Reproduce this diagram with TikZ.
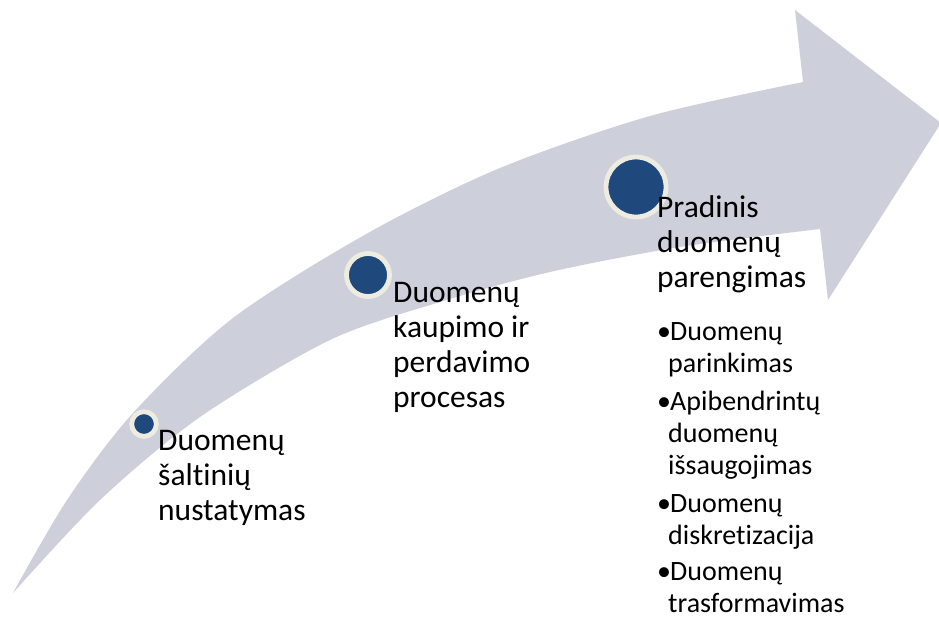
\documentclass[tikz,border=0pt]{standalone}
\usepackage{fontspec}
\setmainfont{Carlito}[Ligatures=NoCommon]

\definecolor{arrowgray}{RGB}{205,208,219}
\definecolor{dotblue}{RGB}{31,73,125}
\definecolor{dotrim}{RGB}{238,236,225}

\newcommand{\subbullet}{\makebox[13pt][l]{•}}
\newcommand{\subindent}{\hspace*{11pt}}

\tikzset{
    dot/.style={circle,fill=dotblue,draw=dotrim,line width=4.8pt,inner sep=0pt},
    % texts are placed by the baseline of their last line
    steptext/.style={anchor=base west,align=left,inner sep=0pt,
        font=\fontsize{31.5}{35}\selectfont},
    itemtext/.style={anchor=base west,align=left,inner sep=0pt,
        font=\fontsize{28}{32}\selectfont}
}

\begin{document}
\begin{tikzpicture}[x=1pt,y=-1pt]
    \useasboundingbox (0,0) rectangle (939,619);

    % the big curved arrow
    \fill[arrowgray] plot[smooth] coordinates {(13,593) (67,500) (133,413) (233,318) (368,233) (500,168) (650,116) (803,82)}
        -- (795,10) -- (941,123) -- (828,300) -- (820,229)
        -- plot[smooth] coordinates {(820,229) (680,247) (550,272) (440,302) (330,340) (200,417) (100,500) (13,593)}
        -- cycle;

    % steps
    \node[dot,minimum size=24.7pt] (d1) at (144,424) {};
    \node[dot,minimum size=43pt] (d2) at (368,275) {};
    \node[dot,minimum size=60pt] (d3) at (636,187) {};

    \node[steptext] (s1) at (158,520) {Duomenų\\šaltinių\\nustatymas};
    \node[steptext] (s2) at (393,407) {Duomenų\\kaupimo ir\\perdavimo\\procesas};
    \node[steptext] (s3) at (657,287) {Pradinis\\duomenų\\parengimas};

    % sub items
    \node[itemtext] (i1) at (657,372) {\subbullet Duomenų\\\subindent parinkimas};
    \node[itemtext] (i2) at (657,474) {\subbullet Apibendrintų\\\subindent duomenų\\\subindent išsaugojimas};
    \node[itemtext] (i3) at (657,544) {\subbullet Duomenų\\\subindent diskretizacija};
    \node[itemtext] (i4) at (657,612) {\subbullet Duomenų\\\subindent trasformavimas};
\end{tikzpicture}
\end{document}
